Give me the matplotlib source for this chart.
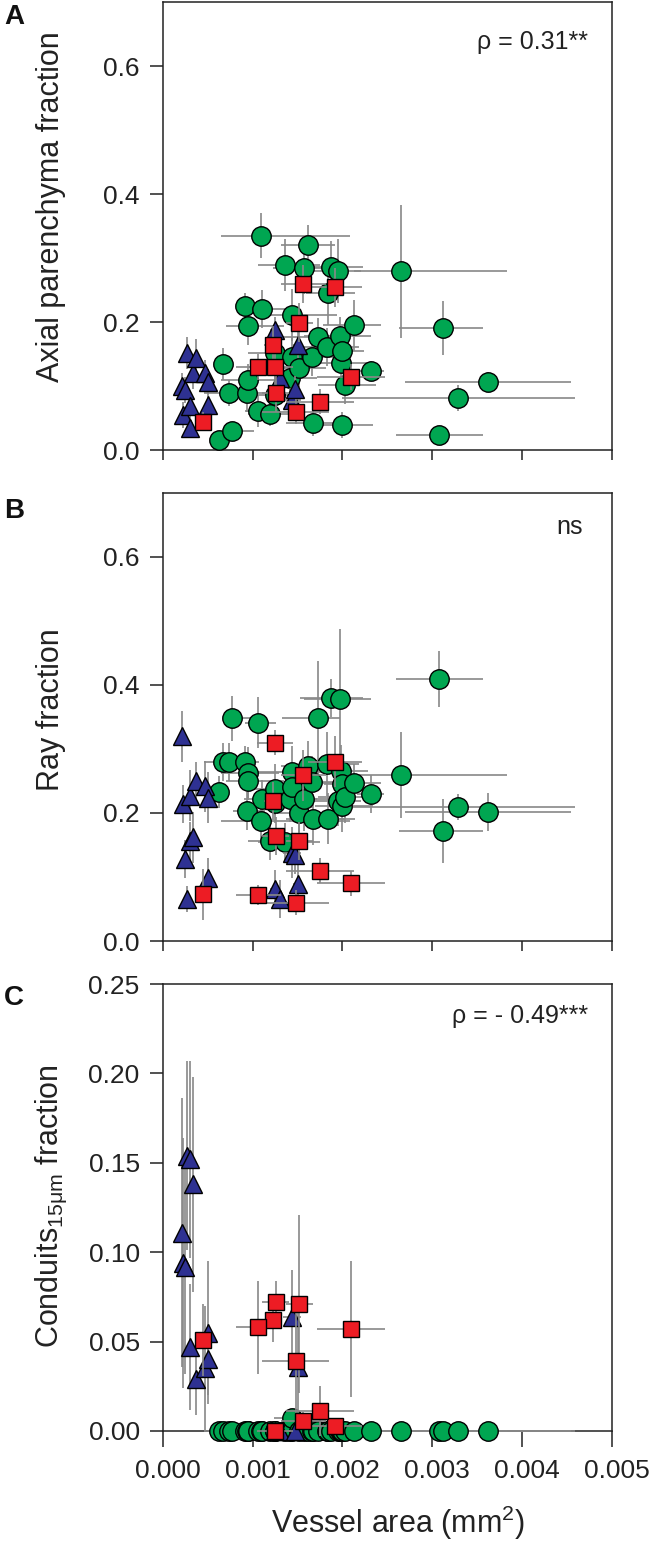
import numpy as np
import matplotlib
matplotlib.use("Agg")
import matplotlib.pyplot as plt
import matplotlib.transforms as mtransforms

plt.rcParams['font.family'] = ['Liberation Sans', 'DejaVu Sans']

# ---- data (vessel area in units of 1e-3 mm2) ----
# green circles
green_x = [0.63, 0.67, 0.74, 0.77, 0.92, 0.935, 0.95, 0.955, 1.065, 1.10,
           1.11, 1.195, 1.25, 1.25, 1.357, 1.413, 1.436, 1.436, 1.52, 1.575,
           1.622, 1.668, 1.677, 1.724, 1.831, 1.845, 1.877, 1.956, 1.970, 1.984,
           1.993, 1.993, 2.025, 2.132, 2.318, 2.652, 3.074, 3.116, 3.283, 3.617]
green_xlo = [0.08, 0.08, 0.28, 0.10, 0.10, 0.15, 0.30, 0.25, 0.15, 0.45,
             0.20, 0.25, 0.20, 0.30, 0.30, 0.15, 0.40, 0.20, 0.25, 0.35,
             0.30, 0.20, 0.30, 0.40, 0.30, 0.25, 0.35, 0.30, 0.40, 0.40,
             0.20, 0.30, 0.30, 0.35, 0.15, 0.52, 0.48, 0.48, 1.29, 0.92]
green_xhi = [0.08, 0.10, 0.25, 0.25, 0.15, 0.20, 0.35, 0.40, 0.20, 0.99,
             0.30, 0.35, 0.25, 0.30, 0.40, 0.30, 0.50, 0.25, 0.30, 0.35,
             0.30, 0.30, 0.35, 0.25, 0.35, 0.30, 0.35, 0.25, 0.35, 0.30,
             0.25, 0.35, 0.35, 0.30, 0.15, 1.18, 0.49, 0.45, 1.31, 0.93]
green_axial = [0.015, 0.135, 0.089, 0.029, 0.225, 0.089, 0.110, 0.194, 0.061, 0.335,
               0.220, 0.057, 0.086, 0.152, 0.289, 0.112, 0.211, 0.146, 0.128, 0.284,
               0.321, 0.146, 0.042, 0.177, 0.161, 0.245, 0.286, 0.279, 0.178, 0.136,
               0.154, 0.039, 0.102, 0.195, 0.124, 0.279, 0.023, 0.191, 0.081, 0.107]
green_axial_err = [0.012, 0.025, 0.02, 0.015, 0.02, 0.03, 0.025, 0.03, 0.025, 0.035,
                   0.03, 0.02, 0.03, 0.03, 0.04, 0.025, 0.04, 0.03, 0.03, 0.04,
                   0.03, 0.03, 0.02, 0.03, 0.03, 0.05, 0.04, 0.05, 0.03, 0.03,
                   0.035, 0.02, 0.03, 0.04, 0.015, 0.104, 0.015, 0.042, 0.02, 0.015]
green_ray = [0.233, 0.280, 0.280, 0.348, 0.280, 0.203, 0.263, 0.250, 0.341, 0.187,
             0.2215, 0.156, 0.215, 0.237, 0.154, 0.2215, 0.264, 0.240, 0.200, 0.2226,
             0.273, 0.2485, 0.190, 0.348, 0.276, 0.191, 0.380, 0.219, 0.3775, 0.266,
             0.246, 0.211, 0.225, 0.2465, 0.230, 0.259, 0.409, 0.172, 0.2095, 0.202]
green_ray_err = [0.025, 0.03, 0.03, 0.035, 0.025, 0.03, 0.04, 0.03, 0.04, 0.03,
                 0.03, 0.03, 0.03, 0.04, 0.03, 0.035, 0.04, 0.03, 0.03, 0.05,
                 0.04, 0.04, 0.04, 0.09, 0.05, 0.04, 0.03, 0.04, 0.11, 0.04,
                 0.03, 0.04, 0.04, 0.03, 0.03, 0.067, 0.044, 0.05, 0.02, 0.03]
green_cond = [0.0] * 17 + [0.007] + [0.0] * 22
green_cond_err = [0.0] * 17 + [0.004] + [0.0] * 22

# blue triangles
blue_x = [0.216, 0.230, 0.244, 0.276, 0.300, 0.300, 0.332, 0.369, 0.471, 0.508,
          0.508, 1.25, 1.306, 1.436, 1.506, 1.47]
blue_xerr = [0.03, 0.03, 0.03, 0.03, 0.03, 0.03, 0.04, 0.04, 0.05, 0.05,
             0.05, 0.05, 0.06, 0.10, 0.05, 0.06]
blue_axial = [0.100, 0.055, 0.094, 0.151, 0.068, 0.034, 0.120, 0.143, 0.120, 0.107,
              0.070, 0.1875, 0.112, 0.078, 0.164, 0.095]
blue_axial_err = [0.02, 0.02, 0.02, 0.025, 0.02, 0.015, 0.025, 0.03, 0.02, 0.02,
                  0.02, 0.02, 0.03, 0.02, 0.02, 0.02]
blue_ray = [0.320, 0.214, 0.128, 0.066, 0.227, 0.156, 0.162, 0.250, 0.242, 0.224,
            0.099, 0.081, 0.066, 0.138, 0.089, 0.135]
blue_ray_err = [0.04, 0.03, 0.03, 0.02, 0.04, 0.03, 0.04, 0.03, 0.04, 0.04,
                0.03, 0.03, 0.03, 0.04, 0.03, 0.03]
blue_cond = [0.111, 0.094, 0.092, 0.154, 0.152, 0.047, 0.138, 0.029, 0.035, 0.040,
             0.055, 0.0, 0.0, 0.064, 0.036, 0.0]
blue_cond_err = [0.075, 0.07, 0.06, 0.053, 0.055, 0.035, 0.06, 0.02, 0.035, 0.02,
                 0.04, 0.0, 0.0, 0.026, 0.03, 0.0]

# red squares
red_x = [1.566, 1.914, 1.52, 1.227, 1.065, 1.25, 2.10, 1.26, 1.75, 1.48, 0.452]
red_xerr = [0.25, 0.30, 0.15, 0.10, 0.25, 0.20, 0.38, 0.15, 0.38, 0.37, 0.05]
red_axial = [0.259, 0.254, 0.199, 0.164, 0.130, 0.130, 0.1145, 0.0886, 0.0755, 0.060, 0.044]
red_axial_err = [0.03, 0.03, 0.03, 0.03, 0.02, 0.03, 0.02, 0.03, 0.02, 0.02, 0.015]
red_ray = [0.259, 0.280, 0.156, 0.219, 0.072, 0.310, 0.090, 0.164, 0.110, 0.060, 0.073]
red_ray_err = [0.04, 0.04, 0.03, 0.03, 0.015, 0.02, 0.02, 0.03, 0.02, 0.02, 0.04]
red_cond = [0.0056, 0.0026, 0.071, 0.062, 0.058, 0.0, 0.057, 0.072, 0.011, 0.039, 0.051]
red_cond_err = [0.005, 0.0026, 0.05, 0.012, 0.026, 0.0, 0.038, 0.012, 0.014, 0.03, 0.02]

GREEN, BLUE, RED = "#00A651", "#2E3192", "#ED1C24"
ECOL = "#888888"
INK = "#222222"

W, H = 653, 1542
fig = plt.figure(figsize=(W / 100, H / 100), dpi=100)


def rect(top, bottom):
    return [162.7 / W, 1 - bottom / H, 449 / W, (bottom - top) / H]


axA = fig.add_axes(rect(2, 450))
axB = fig.add_axes(rect(493, 941))
axC = fig.add_axes(rect(984, 1431))

k = 1e-3
panels = [
    (axA, green_axial, green_axial_err, blue_axial, blue_axial_err, red_axial, red_axial_err),
    (axB, green_ray, green_ray_err, blue_ray, blue_ray_err, red_ray, red_ray_err),
    (axC, green_cond, green_cond_err, blue_cond, blue_cond_err, red_cond, red_cond_err),
]
for ax, gy, ge, by, be, ry, re in panels:
    ax.errorbar(np.array(green_x) * k, gy,
                xerr=[np.array(green_xlo) * k, np.array(green_xhi) * k], yerr=ge,
                fmt="none", ecolor=ECOL, elinewidth=1.2, capsize=0, zorder=3, clip_on=False)
    ax.plot(np.array(green_x) * k, gy, ls="none", marker="o", ms=14, mfc=GREEN,
            mec="black", mew=1.0, zorder=4, clip_on=False)
    ax.errorbar(np.array(blue_x) * k, by, xerr=np.array(blue_xerr) * k, yerr=be,
                fmt="none", ecolor=ECOL, elinewidth=1.2, capsize=0, zorder=5, clip_on=False)
    ax.plot(np.array(blue_x) * k, by, ls="none", marker="^", ms=12.5, mfc=BLUE,
            mec="black", mew=1.0, zorder=6, clip_on=False)
    ax.errorbar(np.array(red_x) * k, ry, xerr=np.array(red_xerr) * k, yerr=re,
                fmt="none", ecolor=ECOL, elinewidth=1.2, capsize=0, zorder=7, clip_on=False)
    ax.plot(np.array(red_x) * k, ry, ls="none", marker="s", ms=12, mfc=RED,
            mec="black", mew=1.0, zorder=8, clip_on=False)

    ax.set_xlim(0, 0.005)
    ax.set_xticks(np.arange(0, 0.0051, 0.001))
    for s in ax.spines.values():
        s.set_linewidth(1.1)
        s.set_color(INK)
    ax.tick_params(axis="y", direction="out", length=9.6, width=1.1, pad=7,
                   labelsize=19, color=INK, labelcolor=INK)
    ax.tick_params(axis="x", direction="out", length=7.2, width=1.1, pad=9,
                   labelsize=19, color=INK, labelcolor=INK)

for ax in (axA, axB):
    ax.set_ylim(0, 0.7)
    ax.set_yticks([0.0, 0.2, 0.4, 0.6])
    ax.set_yticklabels(["0.0", "0.2", "0.4", "0.6"])
    ax.set_xticklabels([])

axC.set_ylim(0, 0.25)
axC.set_yticks([0.0, 0.05, 0.10, 0.15, 0.20, 0.25])
axC.set_yticklabels(["0.00", "0.05", "0.10", "0.15", "0.20", "0.25"])
axC.set_xticklabels(["0.000", "0.001", "0.002", "0.003", "0.004", "0.005"])
axC.tick_params(axis="x", length=11.5)
shift = mtransforms.ScaledTranslation(5 / 100, 0, fig.dpi_scale_trans)
for lab in axC.get_xticklabels():
    lab.set_transform(lab.get_transform() + shift)

# annotations
axA.text(0.947, 0.911, "ρ = 0.31**", transform=axA.transAxes, ha="right", va="center",
         fontsize=18, color=INK)
axB.text(0.936, 0.924, "ns", transform=axB.transAxes, ha="right", va="center",
         fontsize=18, color=INK)
axC.text(0.947, 0.929, "ρ = - 0.49***", transform=axC.transAxes, ha="right", va="center",
         fontsize=18, color=INK)

# axis labels
fig.text(51 / W, 1 - 207 / H, "Axial parenchyma fraction", rotation=90,
         ha="center", va="center", fontsize=22, color=INK)
fig.text(51 / W, 1 - 710 / H, "Ray fraction", rotation=90,
         ha="center", va="center", fontsize=22, color=INK)
fig.text(51 / W, 1 - 1206 / H, "Conduits$_{\\mathregular{15μm}}$ fraction", rotation=90,
         ha="center", va="center", fontsize=22, color=INK)
fig.text(398 / W, 1 - 1533 / H, "Vessel area (mm$^{\\mathregular{2}}$)",
         ha="center", va="baseline", fontsize=22, color=INK)

# panel letters
for letter, yc in (("A", 17.5), ("B", 511), ("C", 998)):
    fig.text(14 / W, 1 - yc / H, letter, ha="center", va="center",
             fontsize=20, fontweight="bold", color="#111111")

fig.savefig("out.png", dpi=100)
